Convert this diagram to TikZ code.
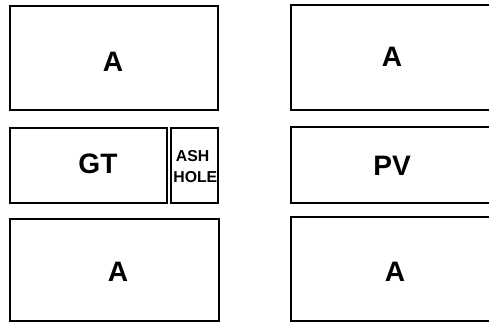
\documentclass[tikz,border=0pt]{standalone}
\usepackage{fontspec}
\setmainfont{Liberation Sans}
\usepackage{tikz}
\usetikzlibrary{positioning}
\tikzset{
  box/.style={rectangle, draw=black, line width=1.6pt, inner sep=0pt},
  biglbl/.style={font=\fontsize{16}{18}\selectfont\bfseries, inner sep=0pt},
  smalllbl/.style={font=\fontsize{9}{12}\selectfont\bfseries, inner sep=0pt,
                   align=left},
}

\begin{document}
\begin{tikzpicture}[x=0.02cm, y=-0.02cm]
  \useasboundingbox (0,0) rectangle (489,322);
  \clip (0,0) rectangle (489,322);

  % left column
  \node[box, minimum width=4.16cm, minimum height=2.08cm] (topL) at (114,58) {};
  \node[box, minimum width=3.14cm, minimum height=1.50cm] (gt) at (88.5,165.5) {};
  \node[box, minimum width=0.94cm, minimum height=1.50cm] (ash) at (194.5,165.5) {};
  \node[box, minimum width=4.18cm, minimum height=2.04cm] (botL) at (114.5,270) {};

  % right column (runs off the right edge)
  \node[box, minimum width=4.38cm, minimum height=2.10cm] (topR) at (400.5,57.5) {};
  \node[box, minimum width=4.38cm, minimum height=1.52cm] (pv) at (400.5,165) {};
  \node[box, minimum width=4.38cm, minimum height=2.08cm] (botR) at (400.5,269) {};

  \node[biglbl] (topLlbl) at (113,62) {A};
  \node[biglbl] (gtlbl) at (98,164) {GT};
  \node[smalllbl, anchor=west] (ashlbl) at (173,167) {\,ASH\\HOLE};
  \node[biglbl] (botLlbl) at (118,272) {A};
  \node[biglbl] (topRlbl) at (392,57) {A};
  \node[biglbl] (pvlbl) at (392,166) {PV};
  \node[biglbl] (botRlbl) at (395,272) {A};
\end{tikzpicture}
\end{document}
